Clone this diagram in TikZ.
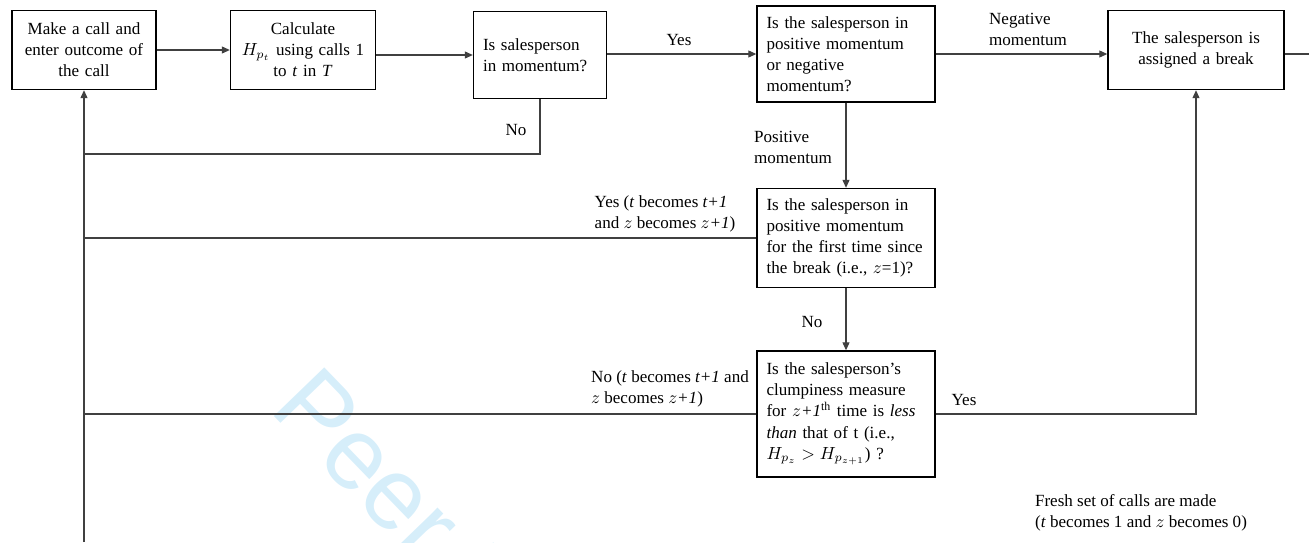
\documentclass[tikz,border=0pt]{standalone}
\usepackage{fontspec}
\setmainfont{Liberation Serif}
\setsansfont{Liberation Sans}
\usetikzlibrary{arrows.meta}

\definecolor{wmark}{RGB}{214,238,250}

\tikzset{
  flowbox/.style={draw, thick, inner xsep=0.19cm, inner ysep=0.15cm, font=\fontsize{9.7}{12}\selectfont},
  flowline/.style={draw=black!75, line width=0.6pt},
  flowarrow/.style={flowline, -{Triangle[length=1.6mm,width=1.4mm]}},
  flowlabel/.style={font=\fontsize{9.7}{12}\selectfont, inner sep=0pt},
}

\begin{document}
\begin{tikzpicture}[x=0.02cm, y=-0.02cm]
        % Frame
        \useasboundingbox (0,0) rectangle (1309,542);
        \clip (0,0) rectangle (1309,542);

        % Watermark
        \node[text=wmark, font=\sffamily\fontsize{58}{58}\selectfont, rotate=-46, anchor=base west, inner sep=0pt]
            (wm) at (268,410) {Peer Review};

        % Top row
        \node[flowbox, text width=2.5cm, minimum height=1.58cm, align=center] (make) at (84,50)
            {Make a call and\\ enter outcome of\\ the call};
        \node[flowbox, text width=2.52cm, minimum height=1.58cm, align=center] (calc) at (303,50)
            {Calculate\\ $H_{p_t}$ using calls 1\\ to \textit{t} in \textit{T}};
        \node[flowbox, text width=2.28cm, minimum height=1.74cm, align=left] (momq) at (540,55)
            {Is salesperson\\ in momentum?};
        \node[flowbox, text width=3.18cm, minimum height=1.92cm, align=left] (signq) at (846,54)
            {Is the salesperson in\\ positive momentum\\ or negative\\ momentum?};
        \node[flowbox, text width=3.14cm, minimum height=1.58cm, align=center] (brk) at (1196,50)
            {The salesperson is\\ assigned a break};

        % Middle column
        \node[flowbox, text width=3.18cm, minimum height=1.98cm, align=left] (firstq) at (846,238)
            {Is the salesperson in\\ positive momentum\\ for the first time since\\ the break (i.e., $z$=1)?};
        \node[flowbox, text width=3.18cm, minimum height=2.52cm, align=left] (clumpq) at (846,414)
            {Is the salesperson's\\ clumpiness measure\\ for $z$\textit{+1}\textsuperscript{th} time is \textit{less}\\ \textit{than} that of t (i.e.,\\ $H_{p_z} > H_{p_{z+1}}$) ?};

        % Loose ends
        \coordinate (loopin) at (84,542);
        \coordinate (noturn) at (84,154);
        \coordinate (out) at (1309,54);

        % Connectors
        \draw[flowarrow] (make) -- (calc);
        \draw[flowarrow] (calc.east |- momq) -- (momq);
        \draw[flowarrow] (momq.east |- signq) -- (signq);
        \draw[flowarrow] (signq.east) -- (signq.east -| brk.west);
        \draw[flowline] (brk.east |- out) -- (out);
        \draw[flowarrow] (signq) -- (firstq);
        \draw[flowarrow] (firstq) -- (clumpq);
        \draw[flowarrow] (loopin) -- (make);
        \draw[flowline] (momq.south) |- (noturn);
        \draw[flowline] (firstq.west) -- (firstq.west -| loopin);
        \draw[flowline] (clumpq.west) -- (clumpq.west -| loopin);
        \draw[flowarrow] (clumpq.east) -| (brk.south);

        % Labels
        \node[flowlabel] (yes1) at (679,40) {Yes};
        \node[flowlabel, align=left] (neg) at (1028,29) {Negative\\ momentum};
        \node[flowlabel] (no1) at (516,130) {No};
        \node[flowlabel, align=left] (pos) at (793,147) {Positive\\ momentum};
        \node[flowlabel, align=left] (yes2) at (665,214)
            {Yes (\textit{t} becomes \textit{t+1}\\ and $z$ becomes $z$\textit{+1})};
        \node[flowlabel] (no2) at (812,322) {No};
        \node[flowlabel, align=left] (no3) at (670,389)
            {No (\textit{t} becomes \textit{t+1} and\\ $z$ becomes $z$\textit{+1})};
        \node[flowlabel] (yes3) at (964,400) {Yes};
        \node[flowlabel, align=left] (fresh) at (1141,513)
            {Fresh set of calls are made\\ (\textit{t} becomes 1 and $z$ becomes 0)};

\end{tikzpicture}
\end{document}
